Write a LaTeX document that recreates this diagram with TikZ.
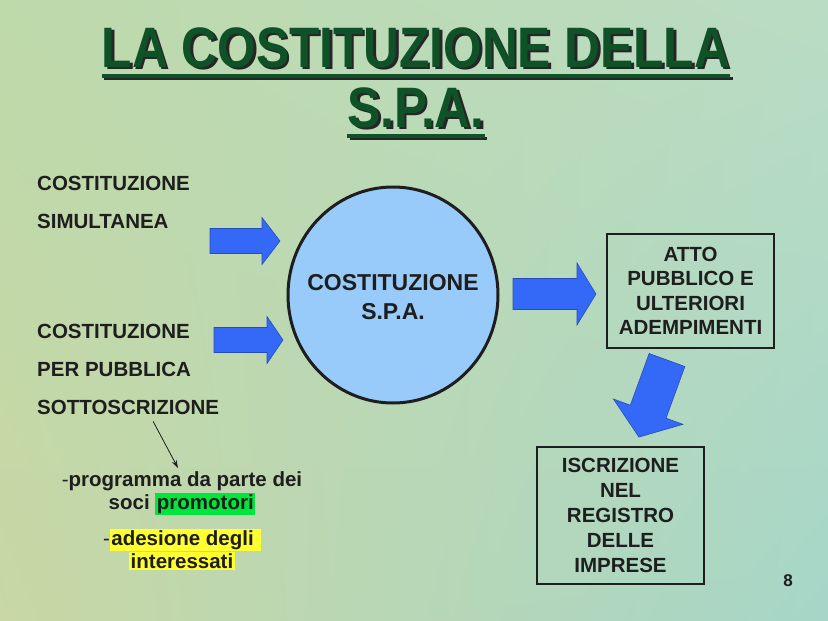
\documentclass[tikz,border=0pt]{standalone}
\usepackage{fontspec}
\setmainfont{Liberation Sans}
\usepackage{tikz}
\usetikzlibrary{shadings, arrows.meta}

\definecolor{bgul}{RGB}{190,217,170}
\definecolor{bgur}{RGB}{186,220,196}
\definecolor{bgll}{RGB}{200,215,164}
\definecolor{bglr}{RGB}{166,214,200}
\definecolor{titlegreen}{RGB}{16,82,40}
\definecolor{arrowblue}{RGB}{52,104,246}
\definecolor{circblue}{RGB}{152,202,250}
\definecolor{hlgreen}{RGB}{0,230,60}
\definecolor{hlyellow}{RGB}{255,255,50}
\definecolor{ink}{RGB}{30,30,30}

\begin{document}
\begin{tikzpicture}[x=1pt,y=-1pt,
  titletext/.style={inner sep=0, anchor=base, font=\fontsize{57}{60}\selectfont\bfseries},
  lbl/.style={inner sep=0, anchor=base west, font=\fontsize{20.5}{24}\selectfont\bfseries, text=ink},
  boxtext/.style={draw=ink, line width=2.5, align=center, inner sep=0, text=ink,
    font=\fontsize{20.5}{24.5}\selectfont\bfseries},
  note/.style={inner sep=0, align=center, text=ink, font=\fontsize{20.5}{23}\selectfont\bfseries},
  blockarrow/.style={fill=arrowblue, draw=arrowblue!75!black, line width=0.6}]
\useasboundingbox (0,0) rectangle (828,621);
\shade[upper left=bgul, upper right=bgur, lower left=bgll, lower right=bglr] (0,0) rectangle (828,621);

% title with shadow
\node[titletext, text=black!85] (title1s) at (418.5,69.5) {\scalebox{0.87}[1]{LA COSTITUZIONE DELLA}};
\node[titletext, text=titlegreen] (title1) at (416,67) {\scalebox{0.87}[1]{LA COSTITUZIONE DELLA}};
\node[titletext, text=black!85] (title2s) at (418.5,129.5) {\scalebox{0.87}[1]{S.P.A.}};
\node[titletext, text=titlegreen] (title2) at (416,127) {\scalebox{0.87}[1]{S.P.A.}};
\draw[line width=3.5, black!85] ([shift={(2.5pt,-11.5pt)}]title1.base west) -- ([shift={(2.5pt,-11.5pt)}]title1.base east);
\draw[line width=3.5, titlegreen] ([yshift=-9pt]title1.base west) -- ([yshift=-9pt]title1.base east);
\draw[line width=3.5, black!85] ([shift={(2.5pt,-11.5pt)}]title2.base west) -- ([shift={(2.5pt,-11.5pt)}]title2.base east);
\draw[line width=3.5, titlegreen] ([yshift=-9pt]title2.base west) -- ([yshift=-9pt]title2.base east);

% left column
\node[lbl] (simult1) at (37,190) {COSTITUZIONE};
\node[lbl] (simult2) at (37,228) {SIMULTANEA};
\node[lbl] (sott1) at (37,338) {COSTITUZIONE};
\node[lbl] (sott2) at (37,376) {PER PUBBLICA};
\node[lbl] (sott3) at (37,414) {SOTTOSCRIZIONE};

% block arrows
\fill[blockarrow] (210,228.5) -- (262,228.5) -- (262,217.5) -- (280,241) -- (262,264.5) -- (262,253.5) -- (210,253.5) -- cycle;
\fill[blockarrow] (214,327.5) -- (267,327.5) -- (267,316.5) -- (283,340) -- (267,363.5) -- (267,352.5) -- (214,352.5) -- cycle;
\fill[blockarrow] (513,278.5) -- (577,278.5) -- (577,263) -- (596,294) -- (577,325) -- (577,309.5) -- (513,309.5) -- cycle;
\begin{scope}[shift={(667,360)}, rotate=-110]
\fill[blockarrow] (0,-19) -- (55,-19) -- (55,-37) -- (82,0) -- (55,37) -- (55,19) -- (0,19) -- cycle;
\end{scope}

% centre
\coordinate (spacentre) at (393,295);
\filldraw[draw=ink, line width=3, fill=circblue] (spacentre) ellipse [x radius=105, y radius=108];
\node[inner sep=0, align=center, text=ink, font=\fontsize{23}{29}\selectfont\bfseries] (spa) at (393,297) {COSTITUZIONE\\S.P.A.};

\node[boxtext, minimum width=167, minimum height=114] (atto) at (690.5,291) {ATTO\\PUBBLICO E\\ULTERIORI\\ADEMPIMENTI};
\node[boxtext, minimum width=167, minimum height=137, font=\fontsize{20.5}{25}\selectfont\bfseries] (iscr) at (620.5,515.5) {ISCRIZIONE\\NEL\\REGISTRO\\DELLE\\IMPRESE};

% notes
\setlength{\fboxsep}{1.5pt}
\node[note, anchor=north] (prog) at (182,471) {{\mdseries -}programma da parte dei\\soci \colorbox{hlgreen}{promotori}};
\node[note, anchor=north] (ades) at (182,529) {{\mdseries -}\colorbox{hlyellow}{adesione degli\ }\\\colorbox{hlyellow}{interessati}};
\draw[-{Stealth[length=8pt,width=5pt]}, line width=0.8, ink] ([shift={(25pt,-7pt)}]sott3.south) -- ([shift={(-4pt,3pt)}]prog.north);

\node[inner sep=0, anchor=base, text=ink, font=\fontsize{17}{19}\selectfont\bfseries] (pagenum) at (788,586) {8};
\end{tikzpicture}
\end{document}
